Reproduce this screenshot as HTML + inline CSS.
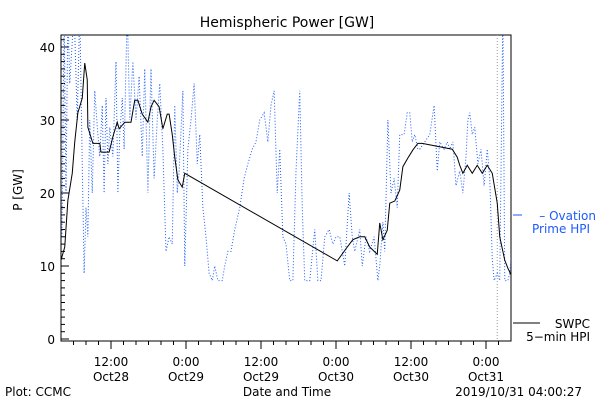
<!DOCTYPE html>
<html><head><meta charset="utf-8"><style>
body{margin:0;background:#fff;width:600px;height:400px;overflow:hidden}
svg{font-family:"DejaVu Sans","Liberation Sans",sans-serif;font-size:12px}
</style></head><body>
<svg id="chart" width="600" height="400">
<text x="287" y="27" text-anchor="middle" font-size="14">Hemispheric Power [GW]</text>
<text transform="translate(22,190) rotate(-90)" text-anchor="middle">P [GW]</text>
<text x="287" y="396" text-anchor="middle">Date and Time</text>
<text x="5" y="396">Plot: CCMC</text>
<text x="582" y="396" text-anchor="end">2019/10/31 04:00:27</text>
<g id="axes"></g>
<g id="series"></g>
<g>
<line x1="513" y1="215" x2="522" y2="215" stroke="#1e5aff"/>
<text x="596" y="220" text-anchor="end" fill="#1e5aff">– Ovation</text>
<text x="590" y="233" text-anchor="end" fill="#1e5aff">Prime HPI</text>
<line x1="513" y1="323" x2="540" y2="323" stroke="#000"/>
<text x="590" y="328" text-anchor="end">SWPC</text>
<text x="590" y="341" text-anchor="end">5−min HPI</text>
</g>
</svg>
<script>
const yTicks=[0,10,20,30,40];
const xTickLabels=[["12:00","Oct28",8],["0:00","Oct29",20],["12:00","Oct29",32],["0:00","Oct30",44],["12:00","Oct30",56],["0:00","Oct31",68]];
const blueHours=[0.16,0.5,0.8,1.1,1.4,2.1,2.6,3.0,3.4,3.7,4.0,4.3,4.6,5.0,5.4,5.9,6.2,6.6,6.9,7.2,7.5,7.8,8.3,8.8,9.1,9.4,9.8,10.1,10.6,11.0,11.5,12.0,12.5,13.0,13.4,13.9,14.4,14.9,15.4,15.8,16.3,16.8,17.3,17.8,18.2,18.6,18.9,19.5,19.8,20.3,20.8,21.3,21.8,22.2,22.7,23.2,23.7,24.2,24.6,25.1,25.8,26.2,26.7,27.2,27.8,28.6,29.3,29.9,30.6,31.2,31.8,32.5,33.1,33.6,34.1,34.6,35.0,35.5,36.0,36.6,37.1,37.6,38.2,38.6,39.0,39.8,40.6,41.1,41.6,42.2,42.9,43.5,44.0,44.6,45.4,46.1,46.6,47.0,47.8,48.2,48.8,49.4,50.1,50.7,51.0,51.5,51.8,52.3,52.8,53.3,53.8,54.2,54.9,55.4,55.8,56.2,56.6,57.1,57.4,58.2,59.0,59.7,60.2,60.6,61.3,61.8,62.2,62.7,63.2,63.8,64.3,64.8,65.1,65.4,65.8,66.2,66.7,67.2,67.7,68.2,68.6,69.0,69.3,69.8,70.2,70.7,71.0,71.5,71.8,72];
const blueValues=[14,45,20,45,35,45,30,45,24,9,18,14,30,20,34,28,25,32,20,33,24,29,25,38,20,28,33,26,45,30,38,30,36,25,37,20,37,22,30,35,26,12,14,13,32,20,23,34,10,26,30,35,24,28,18,14,9,8,10,8,8,10,12,12,15,18,22,24,26,27,30,31,27,32,34,20,26,14,13,8,8,23,34,18,8,8,15,8,8,14,15,13,14,14,10,20,14,12,15,10,14,12,14,8,10,16,12,30,20,22,18,28,28,31,31,27,28,26,26,27,28,32,23,27,26,27,26,27,21,23,20,25,30,31,28,29,24,26,21,26,22,11,8,9,8,45,8,8,9,11];
const blackHours=[0,0.6,1.1,1.8,2.2,2.7,3.4,3.8,4.2,4.3,5.1,6.2,6.4,7.7,8.3,9.0,9.3,10.2,11.2,11.8,12.3,13.0,13.9,14.4,14.9,15.7,16.3,17.0,17.3,17.8,18.2,18.7,19.4,19.8,44.2,45.8,46.7,47.8,48.6,49.4,50.6,51.0,51.5,52.2,52.6,53.4,54.2,54.7,55.5,56.3,57.1,57.8,62.6,63.4,63.8,64.3,65.0,65.8,66.6,67.4,68.2,69.0,69.8,70.2,71.0,71.5,72];
const blackValues=[10.8,12.6,19,22.7,27,31,33,37.8,35.5,29,26.8,26.8,25.6,25.6,27.7,29.7,28.8,29.7,29.7,32.7,32.7,30.8,29.7,31.8,32.7,31.8,28.8,30.8,30.8,28,24.9,21.8,20.8,22.7,10.7,12.6,13.6,14,14,12.6,11.6,15.9,13.6,14.9,18.6,18.9,20.4,23.6,24.8,25.9,26.8,26.8,26,24.9,23.8,22.7,23.8,22.7,23.8,22.7,23.8,22.7,18.6,14,10.8,9.7,8.8];
const markerHour=69.8;

const NS="http://www.w3.org/2000/svg";
const L=61,R=511,T=35,B=341;
const xs=h=>L+h*(R-L)/72;
const ys=v=>339-v*7.3;
function mk(tag,attrs,parent){const e=document.createElementNS(NS,tag);for(const k in attrs)e.setAttribute(k,attrs[k]);parent.appendChild(e);return e;}
const ax=document.getElementById('axes'),se=document.getElementById('series');
const frame=mk('rect',{x:L,y:T,width:R-L,height:B-T,fill:'none',stroke:'#000'},ax);


for(let v=0;v<=41;v++){const y=ys(v);const len=v%10===0?8:4;
 const t=mk('line',{x1:L,y1:y,x2:L+len,y2:y,stroke:'#000'},ax);
 
 }
yTicks.forEach(v=>{const t=mk('text',{x:L-6,y:ys(v)+5,'text-anchor':'end'},ax);t.textContent=v;
 
 });
for(let h=2;h<72;h+=2){const x=xs(h);const len=(h+4)%12===0?8:4;
 const t=mk('line',{x1:x,y1:B,x2:x,y2:B+len,stroke:'#000'},ax);
 
 }
xTickLabels.forEach(d=>{const x=xs(d[2]);
 const a=mk('text',{x:x,y:366,'text-anchor':'middle'},ax);a.textContent=d[0];
 
 
 const b=mk('text',{x:x,y:381,'text-anchor':'middle'},ax);b.textContent=d[1];
 
 });
const cp=mk('clipPath',{id:'clip'},se);mk('rect',{x:L,y:T,width:R-L,height:B-T},cp);
const vm=mk('line',{x1:xs(markerHour),y1:T,x2:xs(markerHour),y2:B,stroke:'#999','stroke-dasharray':'1,2'},se);


const bp=mk('polyline',{points:blueHours.map((h,i)=>xs(h)+','+ys(blueValues[i])).join(' '),fill:'none',stroke:'#1e5aff','stroke-dasharray':'1,2','clip-path':'url(#clip)'},se);


const kp=mk('polyline',{points:blackHours.map((h,i)=>xs(h)+','+ys(blackValues[i])).join(' '),fill:'none',stroke:'#000','clip-path':'url(#clip)'},se);


</script>
</body></html>
